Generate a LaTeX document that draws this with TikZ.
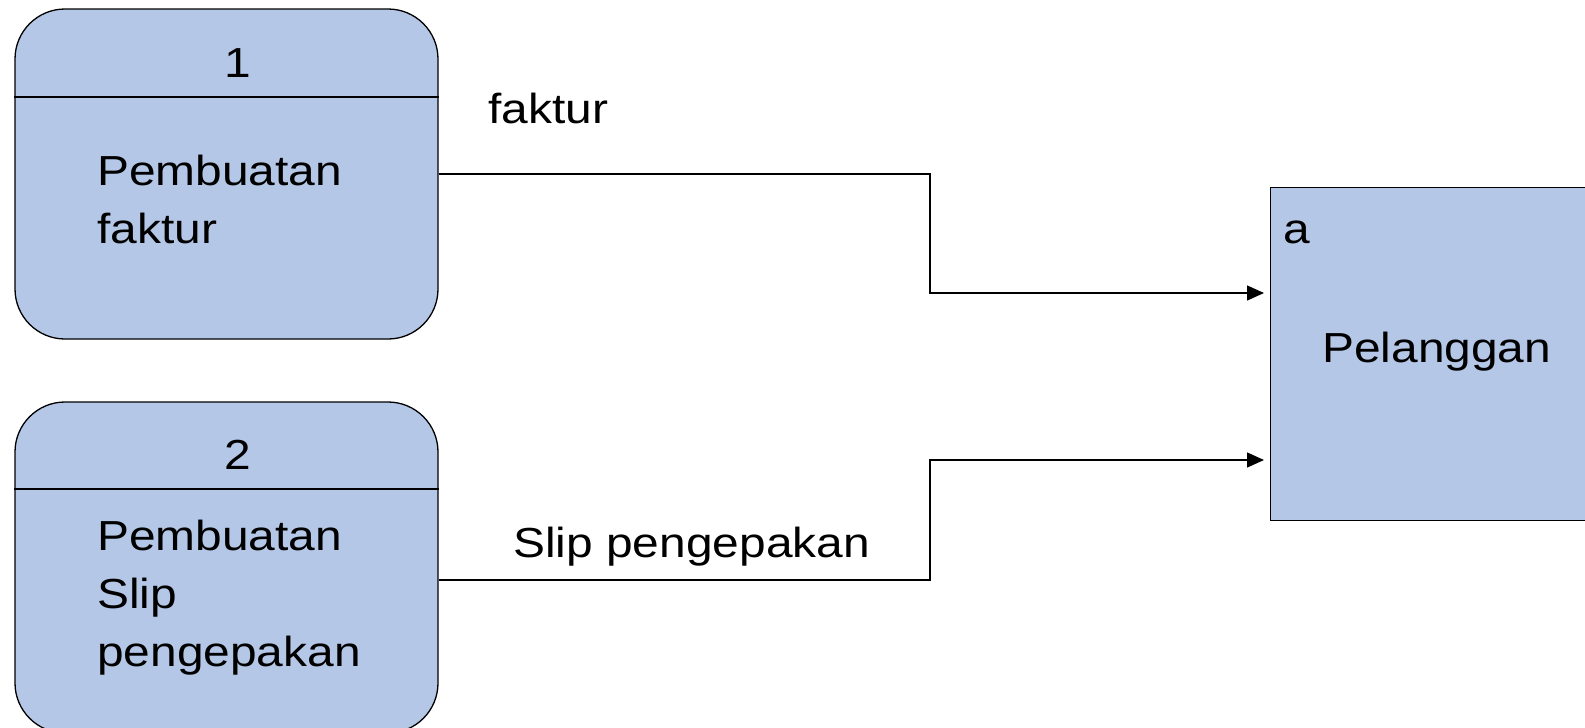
\documentclass[tikz,border=0pt]{standalone}
\usepackage{fontspec}
\setmainfont[FakeStretch=1.14]{Liberation Sans}
\usetikzlibrary{arrows.meta}
\definecolor{boxblue}{RGB}{180,199,231}
\tikzset{
  procbox/.style={draw=black, fill=boxblue, line width=1.3pt, rounded corners=50pt, inner sep=0pt},
  extbox/.style={draw=black, fill=boxblue, line width=1.3pt, inner sep=0pt},
  divider/.style={line width=1.3pt},
  txt/.style={font=\fontsize{42}{58}\selectfont, inner sep=0pt, align=left},
  flow/.style={line width=1.3pt, -{Triangle[length=17pt,width=15pt]}, shorten >=6pt},
}
\begin{document}
\begin{tikzpicture}[x=1pt,y=-1pt]
\useasboundingbox (0,0) rectangle (1585,728);
% process 1
\node[procbox, minimum width=423pt, minimum height=330pt] (p1) at (226.5,174) {};
\draw[divider] (p1.west |- 0,97) -- (p1.east |- 0,97);
\node[txt, anchor=base] (n1) at (238,77) {1};
\node[txt, anchor=base west] (t1) at (97,243) {Pembuatan\\faktur};
% process 2
\node[procbox, minimum width=423pt, minimum height=331pt] (p2) at (226.5,567.5) {};
\draw[divider] (p2.west |- 0,489) -- (p2.east |- 0,489);
\node[txt, anchor=base] (n2) at (238,469) {2};
\node[txt, anchor=base west] (t2) at (97,666) {Pembuatan\\Slip\\pengepakan};
% external entity
\node[extbox, anchor=north west, minimum width=340pt, minimum height=333pt] (ext) at (1270,187) {};
\node[txt, anchor=base west] (ea) at (1283,243) {a};
\node[txt, anchor=base west] (el) at (1322,362) {Pelanggan};
% flows
\draw[flow] (p1.east) -- (930,174) |- (ext.west |- 0,293);
\draw[flow] (p2.east |- 0,580) -- (930,580) |- (ext.west |- 0,460);
\node[txt, anchor=base west] (lf) at (488,123) {faktur};
\node[txt, anchor=base west] (ls) at (513,557) {Slip pengepakan};
\end{tikzpicture}
\end{document}
